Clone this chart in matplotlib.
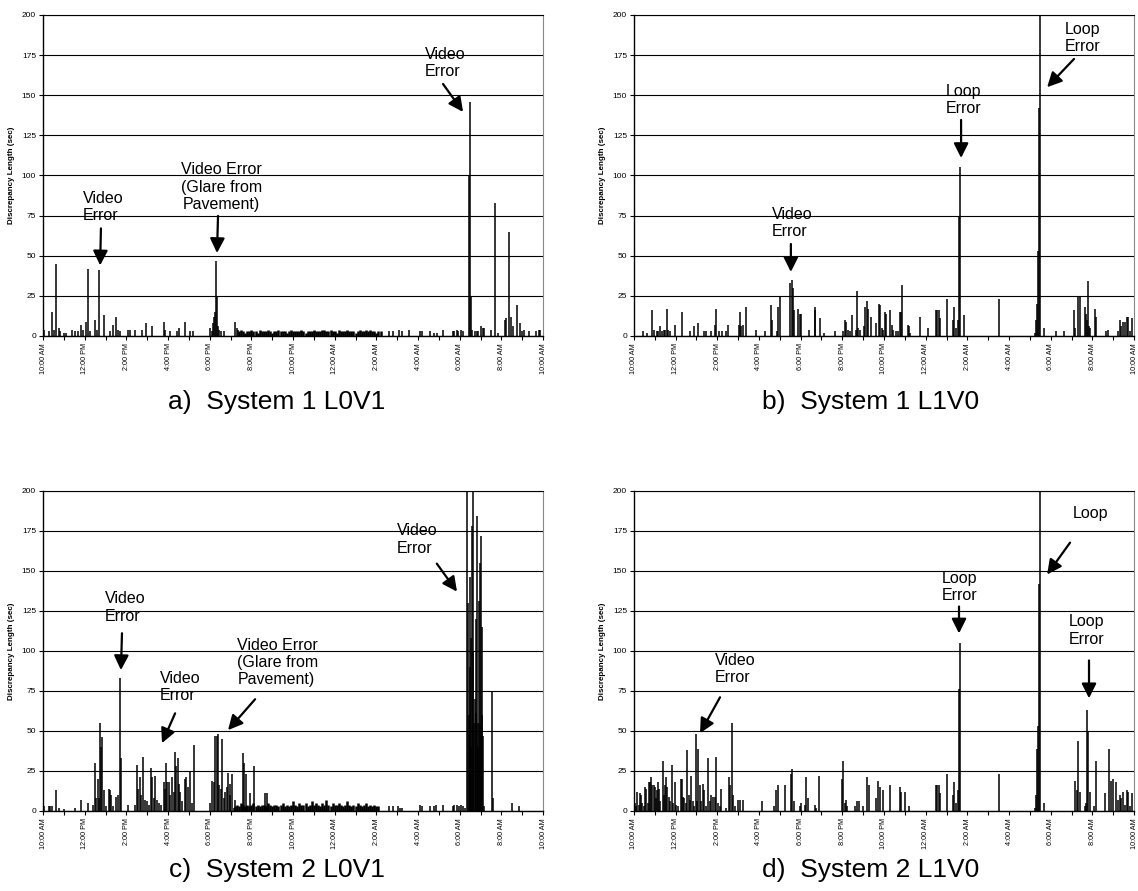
import numpy as np
import matplotlib
matplotlib.use('Agg')
import matplotlib.pyplot as plt

plt.rcParams['font.family'] = ['Liberation Sans', 'DejaVu Sans']

# hours after 10:00 AM and discrepancy length (sec)
a_hours = [0.03, 0.27, 0.43, 0.51, 0.64, 0.75, 0.83, 0.99, 1.10, 1.39, 1.55, 1.66, 1.82, 1.92,
           2.06, 2.16, 2.24, 2.51, 2.59, 2.67, 2.94, 3.23, 3.36, 3.49, 3.58, 3.68, 4.06, 4.19,
           4.43, 4.75, 4.94, 5.23, 5.82, 5.87, 6.08, 6.43, 6.54, 6.83, 7.07, 7.20, 8.00, 8.11,
           8.16, 8.21, 8.24, 8.30, 8.35, 8.40, 8.46, 8.56, 8.67, 9.23, 9.31, 9.36,
           16.62, 16.82, 17.10, 17.22, 17.58, 18.10, 18.18, 18.58, 18.77, 18.90, 19.18, 19.66,
           19.74, 19.86, 19.94, 20.05, 20.18, 20.46, 20.50, 20.54, 20.61, 20.74, 20.82, 20.90,
           21.01, 21.11, 21.18, 21.49, 21.70, 21.82, 22.19, 22.22, 22.37, 22.46, 22.58, 22.74,
           22.87, 23.01, 23.10, 23.34, 23.65, 23.81, 23.87]
a_values = [4, 3, 15, 4, 45, 5, 3, 2, 2, 4, 3, 3, 7, 4,
            9, 42, 3, 10, 4, 41, 13, 3, 7, 12, 4, 3, 4, 4,
            4, 4, 8, 6, 9, 4, 3, 3, 5, 9, 3, 3, 5, 3,
            8, 12, 15, 47, 24, 6, 4, 3, 3, 9, 5, 4,
            3, 3, 4, 3, 4, 3, 3, 3, 2, 2, 4, 3,
            3, 4, 3, 4, 3, 100, 146, 24, 4, 3, 3, 3,
            6, 5, 5, 4, 83, 2, 10, 11, 65, 12, 6, 19,
            8, 3, 4, 3, 3, 4, 4]
a_band_start = 9.4
a_band = [3, 4, 3, 2, 3, 3, 4, 3, 3, 2, 4, 3, 3, 3, 4, 3, 2, 3, 3, 4, 3, 3, 3, 2, 3, 4, 3,
          3, 3, 3, 4, 3, 2, 3, 3, 3, 4, 3, 3, 3, 4, 4, 3, 3, 4, 3, 3, 2, 4, 3, 3, 3, 4, 3,
          3, 3, 2, 3, 4, 3, 3, 4, 3, 4, 3, 3, 2, 3, 3]

b_hours = [0.43, 0.64, 0.88, 0.96, 1.10, 1.15, 1.26, 1.36, 1.44, 1.50, 1.57, 1.63, 1.71, 1.95,
           2.29, 2.70, 2.86, 3.07, 3.36, 3.47, 3.68, 3.90, 3.95, 4.06, 4.24, 4.40, 4.53, 5.02,
           5.09, 5.15, 5.23, 5.36, 5.84, 6.30, 6.59, 6.62, 6.86, 6.91, 7.02, 7.47, 7.58, 7.63,
           7.66, 7.89, 7.95, 8.00, 8.40, 8.67, 8.70, 8.91, 9.10, 9.66, 10.03, 10.14, 10.19,
           10.27, 10.35, 10.48, 10.64, 10.70, 10.77, 10.83, 11.02, 11.07, 11.20, 11.25, 11.36,
           11.63, 11.74, 11.79, 11.90, 11.95, 12.03, 12.08, 12.30, 12.38, 12.43, 12.56, 12.67,
           12.75, 12.80, 12.85, 13.15, 13.20, 13.26, 13.71, 14.11, 14.48, 14.56, 14.64, 14.67,
           15.04, 15.31, 15.38, 15.47, 15.55, 15.62, 15.63, 15.84, 17.52, 19.23, 19.31, 19.36,
           19.41, 19.46, 19.47, 19.68, 20.24, 20.62, 21.10, 21.15, 21.33, 21.39, 21.65, 21.68,
           21.74, 21.79, 21.82, 21.90, 22.11, 22.16, 22.64, 22.75, 23.25, 23.33, 23.39, 23.47,
           23.55, 23.66, 23.71, 23.79, 23.89]
b_values = [3, 2, 16, 4, 3, 3, 6, 3, 4, 4, 17, 4, 3, 7,
            15, 3, 6, 8, 3, 3, 3, 7, 17, 3, 3, 3, 7, 7,
            15, 6, 7, 18, 4, 3, 19, 10, 3, 18, 25, 33, 35, 30,
            16, 17, 14, 14, 4, 18, 16, 11, 2, 3, 3, 10, 9,
            4, 3, 13, 4, 28, 5, 4, 6, 18, 22, 17, 12,
            8, 20, 19, 5, 4, 15, 14, 16, 7, 4, 3, 3,
            15, 15, 32, 7, 6, 2, 12, 5, 16, 16, 16, 11,
            23, 10, 18, 5, 10, 75, 105, 13, 23, 2, 10, 20,
            53, 142, 205, 5, 3, 3, 16, 5, 25, 25, 18, 14,
            10, 34, 6, 5, 17, 12, 3, 4, 3, 10, 6, 9,
            9, 12, 12, 3, 11]

c_hours = [0.03, 0.27, 0.35, 0.43, 0.64, 0.75, 0.99, 1.55, 1.82, 2.16, 2.38, 2.51, 2.56, 2.62,
           2.67, 2.75, 2.80, 2.85, 2.91, 3.04, 3.15, 3.20, 3.26, 3.36, 3.49, 3.58, 3.71, 3.74,
           4.08, 4.43, 4.51, 4.56, 4.67, 4.72, 4.80, 4.91, 4.99, 5.07, 5.18, 5.23, 5.31, 5.39,
           5.47, 5.55, 5.66, 5.79, 5.84, 5.92, 5.95, 6.03, 6.11, 6.19, 6.27, 6.35, 6.40, 6.46,
           6.51, 6.59, 6.67, 6.83, 6.88, 6.96, 7.07, 7.15, 7.26, 8.00, 8.11, 8.19, 8.27, 8.35,
           8.40, 8.46, 8.54, 8.59, 8.67, 8.75, 8.83, 8.90, 8.96, 8.99, 9.06, 9.15, 9.23, 9.60,
           9.66, 9.76, 9.95, 10.11, 10.67, 10.75,
           16.62, 16.82, 17.06, 17.14, 17.22, 18.10, 18.18, 18.58, 18.77, 18.86, 19.18, 19.66,
           19.74, 19.86, 19.95, 20.05, 20.18, 20.27, 20.37, 20.40, 20.45, 20.48, 20.50, 20.54,
           20.56, 20.61, 20.64, 20.66, 20.70, 20.72, 20.77, 20.80, 20.82, 20.86, 20.89, 20.93,
           20.96, 20.98, 21.01, 21.03, 21.06, 21.08, 21.10, 21.17, 21.54, 21.58, 22.50, 22.86]
c_values = [3, 3, 3, 3, 13, 2, 1, 2, 7, 5, 4, 30, 8, 20,
            8, 55, 40, 46, 13, 3, 14, 13, 10, 3, 9, 10, 83, 33,
            4, 4, 29, 14, 21, 10, 34, 7, 6, 4, 27, 21, 8, 22,
            7, 5, 4, 18, 14, 30, 18, 18, 10, 21, 12, 37, 28, 33,
            17, 12, 6, 20, 21, 15, 25, 5, 41, 5, 19, 18, 47, 47,
            48, 16, 14, 45, 8, 12, 15, 24, 10, 17, 23, 2, 7, 36,
            30, 23, 11, 28, 11, 11,
            3, 3, 3, 2, 2, 4, 3, 3, 3, 4, 4, 3,
            4, 4, 3, 4, 3, 2, 205, 130, 60, 90, 146, 108,
            40, 178, 100, 205, 55, 70, 61, 120, 184, 55, 40, 131,
            155, 54, 172, 50, 115, 60, 47, 3, 75, 8, 5, 3]
c_band_start = 9.2
c_band = [3, 4, 3, 5, 4, 3, 4, 3, 4, 5, 3, 4, 3, 4, 4, 3, 5, 4, 3, 4, 4, 3, 4, 5, 3, 4, 3,
          4, 6, 4, 3, 5, 4, 4, 5, 3, 4, 6, 4, 5, 4, 3, 5, 4, 7, 4, 3, 5, 4, 4, 5, 4, 3, 4,
          6, 4, 3, 4, 3, 5, 4, 3, 4, 5, 3, 4, 3, 4, 3, 3]

d_hours = [0.03, 0.08, 0.16, 0.24, 0.30, 0.35, 0.40, 0.46, 0.54, 0.59, 0.67, 0.72, 0.78, 0.83,
           0.88, 0.94, 0.99, 1.04, 1.10, 1.15, 1.20, 1.26, 1.38, 1.44, 1.50, 1.55, 1.60, 1.66,
           1.71, 1.82, 1.87, 1.95, 2.03, 2.11, 2.24, 2.29, 2.35, 2.40, 2.48, 2.56, 2.62, 2.67,
           2.75, 2.83, 2.88, 2.96, 3.02, 3.09, 3.15, 3.22, 3.31, 3.38, 3.47, 3.55, 3.63, 3.71,
           3.79, 3.87, 3.95, 4.03, 4.11, 4.16, 4.43, 4.56, 4.62, 4.70, 4.75, 4.83, 4.99, 5.07,
           5.23, 6.16, 6.70, 6.83, 6.91, 7.25, 7.54, 7.60, 7.66, 7.95, 8.03, 8.19, 8.27, 8.37,
           8.67, 8.75, 8.86, 9.97, 10.03, 10.11, 10.16, 10.22, 10.59, 10.70, 10.78, 10.99,
           11.20, 11.28, 11.60, 11.71, 11.82, 11.95, 12.30, 12.75, 12.83, 13.02, 13.20, 14.48,
           14.56, 14.64, 14.67, 15.04, 15.31, 15.38, 15.47, 15.55, 15.62, 15.63, 17.52, 19.23,
           19.31, 19.36, 19.41, 19.46, 19.47, 19.68, 21.15, 21.26, 21.33, 21.39, 21.63, 21.71,
           21.76, 21.81, 21.87, 22.08, 22.16, 22.59, 22.82, 22.91, 22.99, 23.12, 23.23, 23.31,
           23.39, 23.47, 23.55, 23.66, 23.73, 23.79, 23.90]
d_values = [5, 3, 12, 4, 11, 10, 5, 3, 15, 14, 5, 18, 18, 21,
            16, 16, 15, 8, 13, 18, 14, 6, 31, 10, 16, 21, 15, 9,
            6, 29, 5, 18, 4, 3, 20, 20, 9, 8, 5, 38, 10, 7,
            22, 6, 3, 48, 6, 39, 16, 6, 17, 13, 3, 33, 6, 10,
            9, 9, 34, 5, 3, 14, 2, 21, 16, 55, 10, 3, 7, 7,
            7, 6, 3, 13, 16, 16, 23, 26, 6, 3, 5, 4, 21, 8,
            4, 2, 22, 20, 31, 5, 7, 3, 3, 6, 6, 3,
            21, 16, 8, 19, 15, 13, 16, 15, 12, 12, 3, 16,
            16, 16, 11, 23, 10, 18, 5, 13, 76, 105, 23, 2,
            10, 39, 53, 142, 205, 5, 19, 13, 44, 12, 3, 5,
            63, 50, 12, 3, 31, 11, 39, 19, 20, 18, 7, 10,
            8, 12, 4, 13, 12, 3, 11]

hour_labels = ['10:00 AM', '12:00 PM', '2:00 PM', '4:00 PM', '6:00 PM', '8:00 PM',
               '10:00 PM', '12:00 AM', '2:00 AM', '4:00 AM', '6:00 AM', '8:00 AM', '10:00 AM']
captions = ['a)  System 1 L0V1', 'b)  System 1 L1V0', 'c)  System 2 L0V1', 'd)  System 2 L1V0']


def dibujar_panel(ax, horas, valores, banda_inicio=None, banda=None):
    if banda is not None:
        t = banda_inicio + 0.1 * np.arange(len(banda))
        ax.vlines(t, 0, banda, colors='black', lw=1.8)
    ax.vlines(horas, 0, valores, colors='black', lw=1.1)
    ax.set_xlim(0, 24)
    ax.set_ylim(0, 200)
    ax.set_xticks(np.arange(0, 25, 2))
    ax.set_xticks(np.arange(0, 25, 1), minor=True)
    ax.set_xticklabels(hour_labels, rotation=90, fontsize=5.2)
    ax.set_yticks(np.arange(0, 201, 25))
    ax.tick_params(axis='y', labelsize=6, length=3, width=0.8, pad=2)
    ax.tick_params(axis='x', which='both', length=3, width=0.8, pad=2)
    ax.yaxis.grid(True, color='black', lw=0.8)
    ax.set_axisbelow(True)
    ax.set_ylabel('Discrepancy Length (sec)', fontsize=5.8, fontweight='bold', labelpad=5)
    ax.spines['right'].set_color('#888888')
    ax.spines['top'].set_color('black')
    for s in ['left', 'bottom']:
        ax.spines[s].set_linewidth(1.0)


def nota(ax, texto, pos_texto, cola, punta, ha='center', ma='left'):
    ax.text(pos_texto[0], pos_texto[1], texto, fontsize=11.5, ha=ha, va='center',
            multialignment=ma, linespacing=1.2)
    ax.annotate('', xy=punta, xytext=cola,
                arrowprops=dict(arrowstyle='-|>', lw=1.6, color='black', mutation_scale=22,
                                shrinkA=0, shrinkB=0))


fig = plt.figure(figsize=(11.38, 8.91), dpi=100)
ax_a = fig.add_axes([0.0378, 0.6229, 0.4394, 0.3603])
ax_b = fig.add_axes([0.5571, 0.6229, 0.4394, 0.3603])
ax_c = fig.add_axes([0.0378, 0.0898, 0.4394, 0.3594])
ax_d = fig.add_axes([0.5571, 0.0898, 0.4394, 0.3594])

dibujar_panel(ax_a, a_hours, a_values, a_band_start, a_band)
dibujar_panel(ax_b, b_hours, b_values)
dibujar_panel(ax_c, c_hours, c_values, c_band_start, c_band)
dibujar_panel(ax_d, d_hours, d_values)

# anotaciones
nota(ax_a, 'Video\nError', (2.88, 80.4), (2.78, 67), (2.74, 44))
nota(ax_a, 'Video Error\n(Glare from\nPavement)', (8.55, 92.8), (8.4, 74.8), (8.35, 51.7), ma='center')
nota(ax_a, 'Video\nError', (19.3, 170), (19.2, 157), (20.16, 139.6))

nota(ax_b, 'Video\nError', (7.58, 70.4), (7.53, 57.3), (7.53, 39.9))
nota(ax_b, 'Loop\nError', (15.8, 147), (15.7, 134.6), (15.7, 110.9))
nota(ax_b, 'Loop\nError', (21.55, 185.7), (21.12, 172.6), (19.83, 155))

nota(ax_c, 'Video\nError', (3.94, 127.1), (3.79, 111), (3.74, 88))
nota(ax_c, 'Video\nError', (6.58, 77.3), (6.34, 61), (5.71, 42.4))
nota(ax_c, 'Video Error\n(Glare from\nPavement)', (11.28, 92.8), (10.18, 69.8), (8.88, 50.5), ma='left')
nota(ax_c, 'Video\nError', (17.95, 169.5), (18.9, 154.5), (19.87, 137))

nota(ax_d, 'Video\nError', (4.85, 88.5), (4.13, 71), (3.17, 48.6))
nota(ax_d, 'Loop\nError', (15.65, 140), (15.6, 127.7), (15.6, 110.9))
nota(ax_d, 'Loop', (21.9, 185.7), (20.93, 167.6), (19.83, 147.7))
nota(ax_d, 'Loop\nError', (21.7, 112.8), (21.84, 94), (21.84, 70.4))

for (x, y), texto in zip([(0.2434, 0.5488), (0.7654, 0.5488), (0.2434, 0.0236), (0.7654, 0.0236)], captions):
    fig.text(x, y, texto, fontsize=19, ha='center', va='center')

fig.savefig('out.png', dpi=100)
